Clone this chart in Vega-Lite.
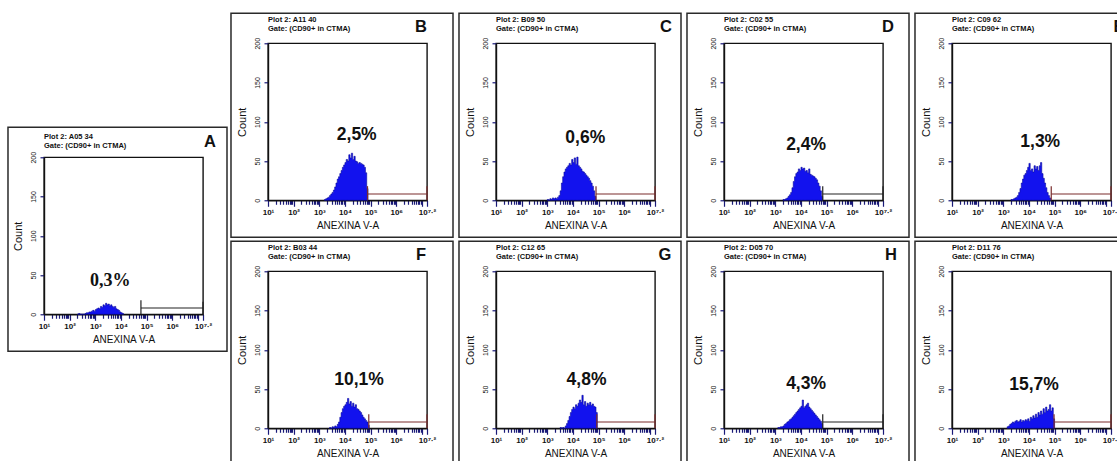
{
"$schema": "https://vega.github.io/schema/vega-lite/v6.json",
"padding": {"left": 6, "top": 11, "right": 0, "bottom": 0},
"spacing": 0,
"center": true,
"config": {
  "font": "Liberation Sans",
  "view": {"stroke": "#111111", "strokeWidth": 1.4},
  "axis": {"grid": false, "domainColor": "#111111", "domainWidth": 1.4, "tickColor": "#1a1a78", "tickWidth": 1.2, "labelColor": "#111111", "titleColor": "#111111", "labelFlush": false, "labelOverlap": false, "labelBound": false},
  "axisX": {"labelFontSize": 8, "labelFontWeight": "bold", "labelPadding": 2, "titleFontSize": 10, "titleFontWeight": "normal", "titlePadding": 4},
  "axisY": {"labelFontSize": 7, "labelAngle": 270, "labelAlign": "center", "labelBaseline": "bottom", "labelPadding": 4, "tickSize": 4, "titleFontSize": 11, "titleFontWeight": "normal", "titlePadding": 6}
},
"datasets": {
  "meta": [
    {"p": "A", "t1": "Plot 2: A05 34", "t2": "Gate: (CD90+ in CTMA)", "L": "A", "pct": "0,3%", "g": 4.78},
    {"p": "B", "t1": "Plot 2: A11 40", "t2": "Gate: (CD90+ in CTMA)", "L": "B", "pct": "2,5%", "g": 4.88},
    {"p": "C", "t1": "Plot 2: B09 50", "t2": "Gate: (CD90+ in CTMA)", "L": "C", "pct": "0,6%", "g": 4.9},
    {"p": "D", "t1": "Plot 2: C02 55", "t2": "Gate: (CD90+ in CTMA)", "L": "D", "pct": "2,4%", "g": 4.85},
    {"p": "E", "t1": "Plot 2: C09 62", "t2": "Gate: (CD90+ in CTMA)", "L": "E", "pct": "1,3%", "g": 4.87},
    {"p": "F", "t1": "Plot 2: B03 44", "t2": "Gate: (CD90+ in CTMA)", "L": "F", "pct": "10,1%", "g": 4.93},
    {"p": "G", "t1": "Plot 2: C12 65", "t2": "Gate: (CD90+ in CTMA)", "L": "G", "pct": "4,8%", "g": 4.93},
    {"p": "H", "t1": "Plot 2: D05 70", "t2": "Gate: (CD90+ in CTMA)", "L": "H", "pct": "4,3%", "g": 4.85},
    {"p": "I", "t1": "Plot 2: D11 76", "t2": "Gate: (CD90+ in CTMA)", "L": "I", "pct": "15,7%", "g": 4.98}
  ],
  "A": [{"x":2.3,"c":0},{"x":2.35,"c":1},{"x":2.4,"c":0},{"x":2.6,"c":1},{"x":2.65,"c":2},{"x":2.7,"c":2},{"x":2.75,"c":3},{"x":2.8,"c":3},{"x":2.85,"c":4},{"x":2.9,"c":5},{"x":2.95,"c":4},{"x":3.0,"c":6},{"x":3.05,"c":7},{"x":3.1,"c":8},{"x":3.15,"c":7},{"x":3.2,"c":10},{"x":3.25,"c":9},{"x":3.3,"c":12},{"x":3.35,"c":11},{"x":3.4,"c":14},{"x":3.45,"c":12},{"x":3.5,"c":13},{"x":3.55,"c":11},{"x":3.6,"c":12},{"x":3.65,"c":10},{"x":3.7,"c":9},{"x":3.75,"c":10},{"x":3.8,"c":7},{"x":3.85,"c":6},{"x":3.9,"c":5},{"x":3.95,"c":3},{"x":4.0,"c":2},{"x":4.05,"c":1},{"x":4.1,"c":0}],
  "B": [{"x":3.2,"c":1},{"x":3.25,"c":2},{"x":3.3,"c":3},{"x":3.35,"c":4},{"x":3.4,"c":6},{"x":3.45,"c":8},{"x":3.5,"c":10},{"x":3.55,"c":13},{"x":3.6,"c":17},{"x":3.65,"c":22},{"x":3.7,"c":27},{"x":3.75,"c":30},{"x":3.8,"c":34},{"x":3.85,"c":38},{"x":3.9,"c":42},{"x":3.95,"c":45},{"x":4.0,"c":48},{"x":4.05,"c":52},{"x":4.1,"c":50},{"x":4.15,"c":58},{"x":4.2,"c":54},{"x":4.25,"c":60},{"x":4.3,"c":52},{"x":4.35,"c":56},{"x":4.4,"c":50},{"x":4.45,"c":49},{"x":4.5,"c":47},{"x":4.55,"c":48},{"x":4.6,"c":47},{"x":4.65,"c":46},{"x":4.7,"c":45},{"x":4.75,"c":42},{"x":4.8,"c":35},{"x":4.85,"c":15},{"x":4.9,"c":0}],
  "C": [{"x":3.0,"c":1},{"x":3.05,"c":0},{"x":3.1,"c":2},{"x":3.15,"c":1},{"x":3.2,"c":3},{"x":3.25,"c":2},{"x":3.3,"c":3},{"x":3.35,"c":2},{"x":3.4,"c":4},{"x":3.45,"c":6},{"x":3.5,"c":12},{"x":3.55,"c":22},{"x":3.6,"c":30},{"x":3.65,"c":36},{"x":3.7,"c":40},{"x":3.75,"c":42},{"x":3.8,"c":44},{"x":3.85,"c":47},{"x":3.9,"c":45},{"x":3.95,"c":52},{"x":4.0,"c":48},{"x":4.05,"c":54},{"x":4.1,"c":46},{"x":4.15,"c":55},{"x":4.2,"c":44},{"x":4.25,"c":42},{"x":4.3,"c":40},{"x":4.35,"c":37},{"x":4.4,"c":36},{"x":4.45,"c":34},{"x":4.5,"c":32},{"x":4.55,"c":30},{"x":4.6,"c":28},{"x":4.65,"c":25},{"x":4.7,"c":22},{"x":4.75,"c":18},{"x":4.8,"c":12},{"x":4.85,"c":5},{"x":4.9,"c":0}],
  "D": [{"x":3.3,"c":1},{"x":3.35,"c":1},{"x":3.4,"c":2},{"x":3.45,"c":3},{"x":3.5,"c":5},{"x":3.55,"c":7},{"x":3.6,"c":10},{"x":3.65,"c":16},{"x":3.7,"c":24},{"x":3.75,"c":30},{"x":3.8,"c":34},{"x":3.85,"c":36},{"x":3.9,"c":40},{"x":3.95,"c":38},{"x":4.0,"c":42},{"x":4.05,"c":40},{"x":4.1,"c":41},{"x":4.15,"c":37},{"x":4.2,"c":38},{"x":4.25,"c":35},{"x":4.3,"c":40},{"x":4.35,"c":33},{"x":4.4,"c":32},{"x":4.45,"c":31},{"x":4.5,"c":30},{"x":4.55,"c":28},{"x":4.6,"c":26},{"x":4.65,"c":22},{"x":4.7,"c":18},{"x":4.75,"c":12},{"x":4.8,"c":5},{"x":4.85,"c":0}],
  "E": [{"x":3.3,"c":1},{"x":3.35,"c":1},{"x":3.4,"c":2},{"x":3.45,"c":3},{"x":3.5,"c":4},{"x":3.55,"c":6},{"x":3.6,"c":10},{"x":3.65,"c":15},{"x":3.7,"c":22},{"x":3.75,"c":27},{"x":3.8,"c":32},{"x":3.85,"c":34},{"x":3.9,"c":38},{"x":3.95,"c":42},{"x":4.0,"c":47},{"x":4.05,"c":38},{"x":4.1,"c":40},{"x":4.15,"c":36},{"x":4.2,"c":44},{"x":4.25,"c":40},{"x":4.3,"c":43},{"x":4.35,"c":38},{"x":4.4,"c":44},{"x":4.45,"c":48},{"x":4.5,"c":34},{"x":4.55,"c":28},{"x":4.6,"c":22},{"x":4.65,"c":16},{"x":4.7,"c":10},{"x":4.75,"c":6},{"x":4.8,"c":3},{"x":4.85,"c":0}],
  "F": [{"x":3.4,"c":1},{"x":3.45,"c":0},{"x":3.5,"c":2},{"x":3.55,"c":1},{"x":3.6,"c":3},{"x":3.65,"c":2},{"x":3.7,"c":5},{"x":3.75,"c":8},{"x":3.8,"c":14},{"x":3.85,"c":20},{"x":3.9,"c":25},{"x":3.95,"c":28},{"x":4.0,"c":30},{"x":4.05,"c":33},{"x":4.1,"c":38},{"x":4.15,"c":31},{"x":4.2,"c":34},{"x":4.25,"c":28},{"x":4.3,"c":32},{"x":4.35,"c":27},{"x":4.4,"c":30},{"x":4.45,"c":25},{"x":4.5,"c":24},{"x":4.55,"c":22},{"x":4.6,"c":20},{"x":4.65,"c":17},{"x":4.7,"c":14},{"x":4.75,"c":12},{"x":4.8,"c":10},{"x":4.85,"c":8},{"x":4.9,"c":4},{"x":4.95,"c":0}],
  "G": [{"x":3.5,"c":1},{"x":3.55,"c":0},{"x":3.6,"c":1},{"x":3.65,"c":0},{"x":3.7,"c":3},{"x":3.75,"c":6},{"x":3.8,"c":10},{"x":3.85,"c":15},{"x":3.9,"c":20},{"x":3.95,"c":24},{"x":4.0,"c":27},{"x":4.05,"c":25},{"x":4.1,"c":30},{"x":4.15,"c":28},{"x":4.2,"c":32},{"x":4.25,"c":36},{"x":4.3,"c":33},{"x":4.35,"c":42},{"x":4.4,"c":30},{"x":4.45,"c":34},{"x":4.5,"c":28},{"x":4.55,"c":32},{"x":4.6,"c":30},{"x":4.65,"c":33},{"x":4.7,"c":29},{"x":4.75,"c":31},{"x":4.8,"c":28},{"x":4.85,"c":27},{"x":4.9,"c":20},{"x":4.95,"c":0}],
  "H": [{"x":3.1,"c":1},{"x":3.15,"c":1},{"x":3.2,"c":2},{"x":3.25,"c":2},{"x":3.3,"c":3},{"x":3.35,"c":5},{"x":3.4,"c":6},{"x":3.45,"c":8},{"x":3.5,"c":9},{"x":3.55,"c":11},{"x":3.6,"c":12},{"x":3.65,"c":14},{"x":3.7,"c":16},{"x":3.75,"c":18},{"x":3.8,"c":20},{"x":3.85,"c":22},{"x":3.9,"c":24},{"x":3.95,"c":26},{"x":4.0,"c":28},{"x":4.05,"c":36},{"x":4.1,"c":26},{"x":4.15,"c":28},{"x":4.2,"c":30},{"x":4.25,"c":32},{"x":4.3,"c":27},{"x":4.35,"c":25},{"x":4.4,"c":23},{"x":4.45,"c":21},{"x":4.5,"c":19},{"x":4.55,"c":17},{"x":4.6,"c":15},{"x":4.65,"c":13},{"x":4.7,"c":11},{"x":4.75,"c":9},{"x":4.8,"c":6},{"x":4.85,"c":0}],
  "I": [{"x":3.15,"c":2},{"x":3.2,"c":3},{"x":3.25,"c":5},{"x":3.3,"c":6},{"x":3.35,"c":8},{"x":3.4,"c":7},{"x":3.45,"c":9},{"x":3.5,"c":10},{"x":3.55,"c":8},{"x":3.6,"c":9},{"x":3.65,"c":11},{"x":3.7,"c":8},{"x":3.75,"c":10},{"x":3.8,"c":9},{"x":3.85,"c":11},{"x":3.9,"c":10},{"x":3.95,"c":12},{"x":4.0,"c":9},{"x":4.05,"c":14},{"x":4.1,"c":12},{"x":4.15,"c":16},{"x":4.2,"c":13},{"x":4.25,"c":18},{"x":4.3,"c":14},{"x":4.35,"c":20},{"x":4.4,"c":17},{"x":4.45,"c":22},{"x":4.5,"c":18},{"x":4.55,"c":25},{"x":4.6,"c":20},{"x":4.65,"c":27},{"x":4.7,"c":22},{"x":4.75,"c":24},{"x":4.8,"c":30},{"x":4.85,"c":22},{"x":4.9,"c":26},{"x":4.95,"c":12},{"x":5.0,"c":0}]
},
"hconcat": [
{
  "width": 159, "height": 157,
  "resolve": {"axis": {"x": "independent", "y": "independent"}},
  "layer": [
    {"data": {"name": "A"}, "mark": {"type": "area", "interpolate": "step-after", "fill": "#1212ee", "stroke": "#0a0aa0", "strokeWidth": 0.6},
     "encoding": {
       "x": {"field": "x", "type": "quantitative", "title": "ANEXINA V-A", "scale": {"domain": [1, 7.2], "nice": false, "zero": false},
             "axis": {"values": [1,1.301,1.477,1.602,1.699,1.778,1.845,1.903,1.954,2,2.301,2.477,2.602,2.699,2.778,2.845,2.903,2.954,3,3.301,3.477,3.602,3.699,3.778,3.845,3.903,3.954,4,4.301,4.477,4.602,4.699,4.778,4.845,4.903,4.954,5,5.301,5.477,5.602,5.699,5.778,5.845,5.903,5.954,6,6.301,6.477,6.602,6.699,6.778,6.845,6.903,6.954,7,7.2],
                      "labelExpr": "datum.value == 7.2 ? '10⁷·²' : datum.value == 1 ? '10¹' : datum.value == 2 ? '10²' : datum.value == 3 ? '10³' : datum.value == 4 ? '10⁴' : datum.value == 5 ? '10⁵' : datum.value == 6 ? '10⁶' : ''",
                      "tickSize": {"condition": {"test": "datum.value % 1 == 0 || datum.value == 7.2", "value": 6}, "value": 4}}},
       "y": {"field": "c", "type": "quantitative", "title": "Count", "scale": {"domain": [0, 200], "nice": false, "zero": false}, "axis": {"values": [0, 50, 100, 150, 200]}}
     }},
    {"data": {"values": [{}]}, "mark": {"type": "rect", "filled": false, "stroke": "#2a2a2a", "strokeWidth": 1.5, "clip": false},
     "encoding": {"x": {"datum": -0.404, "axis": null}, "x2": {"datum": 8.136}, "y": {"datum": -47.13, "axis": null}, "y2": {"datum": 238.22}}},
    {"data": {"name": "meta"}, "transform": [{"filter": "datum.p == 'A'"}],
     "layer": [
       {"mark": {"type": "text", "align": "left", "baseline": "middle", "dy": -20, "fontSize": 7.5, "fontWeight": "bold", "color": "#111"}, "encoding": {"x": {"datum": 1, "axis": null}, "y": {"datum": 200, "axis": null}, "text": {"field": "t1"}}},
       {"mark": {"type": "text", "align": "left", "baseline": "middle", "dy": -11, "fontSize": 7.5, "fontWeight": "bold", "color": "#111"}, "encoding": {"x": {"datum": 1, "axis": null}, "y": {"datum": 200, "axis": null}, "text": {"field": "t2"}}},
       {"mark": {"type": "text", "align": "center", "baseline": "middle", "dx": 7, "dy": -15, "fontSize": 16.5, "fontWeight": "bold", "color": "#111"}, "encoding": {"x": {"datum": 7.2, "axis": null}, "y": {"datum": 200, "axis": null}, "text": {"field": "L"}}},
       {"mark": {"type": "text", "align": "center", "baseline": "middle", "fontSize": 18, "fontWeight": "bold", "font": "Liberation Serif", "color": "#111"}, "encoding": {"x": {"datum": 3.58, "axis": null}, "y": {"datum": 42, "axis": null}, "text": {"field": "pct"}}},
       {"mark": {"type": "rule", "color": "#222222", "strokeWidth": 1.2}, "encoding": {"x": {"field": "g", "type": "quantitative", "axis": null}, "x2": {"datum": 7.2}, "y": {"datum": 8, "axis": null}}},
       {"mark": {"type": "rule", "color": "#222222", "strokeWidth": 1.2}, "encoding": {"x": {"field": "g", "type": "quantitative", "axis": null}, "y": {"datum": 0, "axis": null}, "y2": {"datum": 18}}},
       {"mark": {"type": "rule", "color": "#222222", "strokeWidth": 1.2}, "encoding": {"x": {"datum": 7.2, "axis": null}, "y": {"datum": 0, "axis": null}, "y2": {"datum": 16}}}
     ]}
  ]
},
{"vconcat": [
 {"hconcat": [
  {
  "width": 159, "height": 157,
  "resolve": {"axis": {"x": "independent", "y": "independent"}},
  "layer": [
    {"data": {"name": "B"}, "mark": {"type": "area", "interpolate": "step-after", "fill": "#1212ee", "stroke": "#0a0aa0", "strokeWidth": 0.6},
     "encoding": {
       "x": {"field": "x", "type": "quantitative", "title": "ANEXINA V-A", "scale": {"domain": [1, 7.2], "nice": false, "zero": false},
             "axis": {"values": [1,1.301,1.477,1.602,1.699,1.778,1.845,1.903,1.954,2,2.301,2.477,2.602,2.699,2.778,2.845,2.903,2.954,3,3.301,3.477,3.602,3.699,3.778,3.845,3.903,3.954,4,4.301,4.477,4.602,4.699,4.778,4.845,4.903,4.954,5,5.301,5.477,5.602,5.699,5.778,5.845,5.903,5.954,6,6.301,6.477,6.602,6.699,6.778,6.845,6.903,6.954,7,7.2],
                      "labelExpr": "datum.value == 7.2 ? '10⁷·²' : datum.value == 1 ? '10¹' : datum.value == 2 ? '10²' : datum.value == 3 ? '10³' : datum.value == 4 ? '10⁴' : datum.value == 5 ? '10⁵' : datum.value == 6 ? '10⁶' : ''",
                      "tickSize": {"condition": {"test": "datum.value % 1 == 0 || datum.value == 7.2", "value": 6}, "value": 4}}},
       "y": {"field": "c", "type": "quantitative", "title": "Count", "scale": {"domain": [0, 200], "nice": false, "zero": false}, "axis": {"values": [0, 50, 100, 150, 200]}}
     }},
    {"data": {"values": [{}]}, "mark": {"type": "rect", "filled": false, "stroke": "#2a2a2a", "strokeWidth": 1.5, "clip": false},
     "encoding": {"x": {"datum": -0.443, "axis": null}, "x2": {"datum": 8.214}, "y": {"datum": -47.13, "axis": null}, "y2": {"datum": 238.22}}},
    {"data": {"name": "meta"}, "transform": [{"filter": "datum.p == 'B'"}],
     "layer": [
       {"mark": {"type": "text", "align": "left", "baseline": "middle", "dy": -23, "fontSize": 7.5, "fontWeight": "bold", "color": "#111"}, "encoding": {"x": {"datum": 1, "axis": null}, "y": {"datum": 200, "axis": null}, "text": {"field": "t1"}}},
       {"mark": {"type": "text", "align": "left", "baseline": "middle", "dy": -14, "fontSize": 7.5, "fontWeight": "bold", "color": "#111"}, "encoding": {"x": {"datum": 1, "axis": null}, "y": {"datum": 200, "axis": null}, "text": {"field": "t2"}}},
       {"mark": {"type": "text", "align": "center", "baseline": "middle", "dx": -6, "dy": -16, "fontSize": 16.5, "fontWeight": "bold", "color": "#111"}, "encoding": {"x": {"datum": 7.2, "axis": null}, "y": {"datum": 200, "axis": null}, "text": {"field": "L"}}},
       {"mark": {"type": "text", "align": "center", "baseline": "middle", "fontSize": 17.5, "fontWeight": "bold", "color": "#111"}, "encoding": {"x": {"datum": 4.46, "axis": null}, "y": {"datum": 83, "axis": null}, "text": {"field": "pct"}}},
       {"mark": {"type": "rule", "color": "#7a2c2c", "strokeWidth": 1.2}, "encoding": {"x": {"field": "g", "type": "quantitative", "axis": null}, "x2": {"datum": 7.2}, "y": {"datum": 8, "axis": null}}},
       {"mark": {"type": "rule", "color": "#7a2c2c", "strokeWidth": 1.2}, "encoding": {"x": {"field": "g", "type": "quantitative", "axis": null}, "y": {"datum": 0, "axis": null}, "y2": {"datum": 18}}},
       {"mark": {"type": "rule", "color": "#7a2c2c", "strokeWidth": 1.2}, "encoding": {"x": {"datum": 7.2, "axis": null}, "y": {"datum": 0, "axis": null}, "y2": {"datum": 18}}}
     ]}
  ]
  },
  {
  "width": 159, "height": 157,
  "resolve": {"axis": {"x": "independent", "y": "independent"}},
  "layer": [
    {"data": {"name": "C"}, "mark": {"type": "area", "interpolate": "step-after", "fill": "#1212ee", "stroke": "#0a0aa0", "strokeWidth": 0.6},
     "encoding": {
       "x": {"field": "x", "type": "quantitative", "title": "ANEXINA V-A", "scale": {"domain": [1, 7.2], "nice": false, "zero": false},
             "axis": {"values": [1,1.301,1.477,1.602,1.699,1.778,1.845,1.903,1.954,2,2.301,2.477,2.602,2.699,2.778,2.845,2.903,2.954,3,3.301,3.477,3.602,3.699,3.778,3.845,3.903,3.954,4,4.301,4.477,4.602,4.699,4.778,4.845,4.903,4.954,5,5.301,5.477,5.602,5.699,5.778,5.845,5.903,5.954,6,6.301,6.477,6.602,6.699,6.778,6.845,6.903,6.954,7,7.2],
                      "labelExpr": "datum.value == 7.2 ? '10⁷·²' : datum.value == 1 ? '10¹' : datum.value == 2 ? '10²' : datum.value == 3 ? '10³' : datum.value == 4 ? '10⁴' : datum.value == 5 ? '10⁵' : datum.value == 6 ? '10⁶' : ''",
                      "tickSize": {"condition": {"test": "datum.value % 1 == 0 || datum.value == 7.2", "value": 6}, "value": 4}}},
       "y": {"field": "c", "type": "quantitative", "title": "Count", "scale": {"domain": [0, 200], "nice": false, "zero": false}, "axis": {"values": [0, 50, 100, 150, 200]}}
     }},
    {"data": {"values": [{}]}, "mark": {"type": "rect", "filled": false, "stroke": "#2a2a2a", "strokeWidth": 1.5, "clip": false},
     "encoding": {"x": {"datum": -0.443, "axis": null}, "x2": {"datum": 8.214}, "y": {"datum": -47.13, "axis": null}, "y2": {"datum": 238.22}}},
    {"data": {"name": "meta"}, "transform": [{"filter": "datum.p == 'C'"}],
     "layer": [
       {"mark": {"type": "text", "align": "left", "baseline": "middle", "dy": -23, "fontSize": 7.5, "fontWeight": "bold", "color": "#111"}, "encoding": {"x": {"datum": 1, "axis": null}, "y": {"datum": 200, "axis": null}, "text": {"field": "t1"}}},
       {"mark": {"type": "text", "align": "left", "baseline": "middle", "dy": -14, "fontSize": 7.5, "fontWeight": "bold", "color": "#111"}, "encoding": {"x": {"datum": 1, "axis": null}, "y": {"datum": 200, "axis": null}, "text": {"field": "t2"}}},
       {"mark": {"type": "text", "align": "center", "baseline": "middle", "dx": 11, "dy": -16, "fontSize": 16.5, "fontWeight": "bold", "color": "#111"}, "encoding": {"x": {"datum": 7.2, "axis": null}, "y": {"datum": 200, "axis": null}, "text": {"field": "L"}}},
       {"mark": {"type": "text", "align": "center", "baseline": "middle", "fontSize": 17.5, "fontWeight": "bold", "color": "#111"}, "encoding": {"x": {"datum": 4.48, "axis": null}, "y": {"datum": 79, "axis": null}, "text": {"field": "pct"}}},
       {"mark": {"type": "rule", "color": "#7a2c2c", "strokeWidth": 1.2}, "encoding": {"x": {"field": "g", "type": "quantitative", "axis": null}, "x2": {"datum": 7.2}, "y": {"datum": 8, "axis": null}}},
       {"mark": {"type": "rule", "color": "#7a2c2c", "strokeWidth": 1.2}, "encoding": {"x": {"field": "g", "type": "quantitative", "axis": null}, "y": {"datum": 0, "axis": null}, "y2": {"datum": 18}}},
       {"mark": {"type": "rule", "color": "#7a2c2c", "strokeWidth": 1.2}, "encoding": {"x": {"datum": 7.2, "axis": null}, "y": {"datum": 0, "axis": null}, "y2": {"datum": 18}}}
     ]}
  ]
  },
  {
  "width": 159, "height": 157,
  "resolve": {"axis": {"x": "independent", "y": "independent"}},
  "layer": [
    {"data": {"name": "D"}, "mark": {"type": "area", "interpolate": "step-after", "fill": "#1212ee", "stroke": "#0a0aa0", "strokeWidth": 0.6},
     "encoding": {
       "x": {"field": "x", "type": "quantitative", "title": "ANEXINA V-A", "scale": {"domain": [1, 7.2], "nice": false, "zero": false},
             "axis": {"values": [1,1.301,1.477,1.602,1.699,1.778,1.845,1.903,1.954,2,2.301,2.477,2.602,2.699,2.778,2.845,2.903,2.954,3,3.301,3.477,3.602,3.699,3.778,3.845,3.903,3.954,4,4.301,4.477,4.602,4.699,4.778,4.845,4.903,4.954,5,5.301,5.477,5.602,5.699,5.778,5.845,5.903,5.954,6,6.301,6.477,6.602,6.699,6.778,6.845,6.903,6.954,7,7.2],
                      "labelExpr": "datum.value == 7.2 ? '10⁷·²' : datum.value == 1 ? '10¹' : datum.value == 2 ? '10²' : datum.value == 3 ? '10³' : datum.value == 4 ? '10⁴' : datum.value == 5 ? '10⁵' : datum.value == 6 ? '10⁶' : ''",
                      "tickSize": {"condition": {"test": "datum.value % 1 == 0 || datum.value == 7.2", "value": 6}, "value": 4}}},
       "y": {"field": "c", "type": "quantitative", "title": "Count", "scale": {"domain": [0, 200], "nice": false, "zero": false}, "axis": {"values": [0, 50, 100, 150, 200]}}
     }},
    {"data": {"values": [{}]}, "mark": {"type": "rect", "filled": false, "stroke": "#2a2a2a", "strokeWidth": 1.5, "clip": false},
     "encoding": {"x": {"datum": -0.443, "axis": null}, "x2": {"datum": 8.214}, "y": {"datum": -47.13, "axis": null}, "y2": {"datum": 238.22}}},
    {"data": {"name": "meta"}, "transform": [{"filter": "datum.p == 'D'"}],
     "layer": [
       {"mark": {"type": "text", "align": "left", "baseline": "middle", "dy": -23, "fontSize": 7.5, "fontWeight": "bold", "color": "#111"}, "encoding": {"x": {"datum": 1, "axis": null}, "y": {"datum": 200, "axis": null}, "text": {"field": "t1"}}},
       {"mark": {"type": "text", "align": "left", "baseline": "middle", "dy": -14, "fontSize": 7.5, "fontWeight": "bold", "color": "#111"}, "encoding": {"x": {"datum": 1, "axis": null}, "y": {"datum": 200, "axis": null}, "text": {"field": "t2"}}},
       {"mark": {"type": "text", "align": "center", "baseline": "middle", "dx": 5, "dy": -16, "fontSize": 16.5, "fontWeight": "bold", "color": "#111"}, "encoding": {"x": {"datum": 7.2, "axis": null}, "y": {"datum": 200, "axis": null}, "text": {"field": "L"}}},
       {"mark": {"type": "text", "align": "center", "baseline": "middle", "fontSize": 17.5, "fontWeight": "bold", "color": "#111"}, "encoding": {"x": {"datum": 4.2, "axis": null}, "y": {"datum": 71, "axis": null}, "text": {"field": "pct"}}},
       {"mark": {"type": "rule", "color": "#222222", "strokeWidth": 1.2}, "encoding": {"x": {"field": "g", "type": "quantitative", "axis": null}, "x2": {"datum": 7.2}, "y": {"datum": 8, "axis": null}}},
       {"mark": {"type": "rule", "color": "#222222", "strokeWidth": 1.2}, "encoding": {"x": {"field": "g", "type": "quantitative", "axis": null}, "y": {"datum": 0, "axis": null}, "y2": {"datum": 18}}},
       {"mark": {"type": "rule", "color": "#222222", "strokeWidth": 1.2}, "encoding": {"x": {"datum": 7.2, "axis": null}, "y": {"datum": 0, "axis": null}, "y2": {"datum": 18}}}
     ]}
  ]
  },
  {
  "width": 159, "height": 157,
  "resolve": {"axis": {"x": "independent", "y": "independent"}},
  "layer": [
    {"data": {"name": "E"}, "mark": {"type": "area", "interpolate": "step-after", "fill": "#1212ee", "stroke": "#0a0aa0", "strokeWidth": 0.6},
     "encoding": {
       "x": {"field": "x", "type": "quantitative", "title": "ANEXINA V-A", "scale": {"domain": [1, 7.2], "nice": false, "zero": false},
             "axis": {"values": [1,1.301,1.477,1.602,1.699,1.778,1.845,1.903,1.954,2,2.301,2.477,2.602,2.699,2.778,2.845,2.903,2.954,3,3.301,3.477,3.602,3.699,3.778,3.845,3.903,3.954,4,4.301,4.477,4.602,4.699,4.778,4.845,4.903,4.954,5,5.301,5.477,5.602,5.699,5.778,5.845,5.903,5.954,6,6.301,6.477,6.602,6.699,6.778,6.845,6.903,6.954,7,7.2],
                      "labelExpr": "datum.value == 7.2 ? '10⁷·²' : datum.value == 1 ? '10¹' : datum.value == 2 ? '10²' : datum.value == 3 ? '10³' : datum.value == 4 ? '10⁴' : datum.value == 5 ? '10⁵' : datum.value == 6 ? '10⁶' : ''",
                      "tickSize": {"condition": {"test": "datum.value % 1 == 0 || datum.value == 7.2", "value": 6}, "value": 4}}},
       "y": {"field": "c", "type": "quantitative", "title": "Count", "scale": {"domain": [0, 200], "nice": false, "zero": false}, "axis": {"values": [0, 50, 100, 150, 200]}}
     }},
    {"data": {"values": [{}]}, "mark": {"type": "rect", "filled": false, "stroke": "#2a2a2a", "strokeWidth": 1.5, "clip": false},
     "encoding": {"x": {"datum": -0.443, "axis": null}, "x2": {"datum": 8.214}, "y": {"datum": -47.13, "axis": null}, "y2": {"datum": 238.22}}},
    {"data": {"name": "meta"}, "transform": [{"filter": "datum.p == 'E'"}],
     "layer": [
       {"mark": {"type": "text", "align": "left", "baseline": "middle", "dy": -23, "fontSize": 7.5, "fontWeight": "bold", "color": "#111"}, "encoding": {"x": {"datum": 1, "axis": null}, "y": {"datum": 200, "axis": null}, "text": {"field": "t1"}}},
       {"mark": {"type": "text", "align": "left", "baseline": "middle", "dy": -14, "fontSize": 7.5, "fontWeight": "bold", "color": "#111"}, "encoding": {"x": {"datum": 1, "axis": null}, "y": {"datum": 200, "axis": null}, "text": {"field": "t2"}}},
       {"mark": {"type": "text", "align": "center", "baseline": "middle", "dx": 8, "dy": -16, "fontSize": 16.5, "fontWeight": "bold", "color": "#111"}, "encoding": {"x": {"datum": 7.2, "axis": null}, "y": {"datum": 200, "axis": null}, "text": {"field": "L"}}},
       {"mark": {"type": "text", "align": "center", "baseline": "middle", "fontSize": 17.5, "fontWeight": "bold", "color": "#111"}, "encoding": {"x": {"datum": 4.44, "axis": null}, "y": {"datum": 74, "axis": null}, "text": {"field": "pct"}}},
       {"mark": {"type": "rule", "color": "#7a2c2c", "strokeWidth": 1.2}, "encoding": {"x": {"field": "g", "type": "quantitative", "axis": null}, "x2": {"datum": 7.2}, "y": {"datum": 8, "axis": null}}},
       {"mark": {"type": "rule", "color": "#7a2c2c", "strokeWidth": 1.2}, "encoding": {"x": {"field": "g", "type": "quantitative", "axis": null}, "y": {"datum": 0, "axis": null}, "y2": {"datum": 18}}},
       {"mark": {"type": "rule", "color": "#7a2c2c", "strokeWidth": 1.2}, "encoding": {"x": {"datum": 7.2, "axis": null}, "y": {"datum": 0, "axis": null}, "y2": {"datum": 18}}}
     ]}
  ]
  }
 ], "spacing": 2},
 {"hconcat": [
  {
  "width": 159, "height": 157,
  "resolve": {"axis": {"x": "independent", "y": "independent"}},
  "layer": [
    {"data": {"name": "F"}, "mark": {"type": "area", "interpolate": "step-after", "fill": "#1212ee", "stroke": "#0a0aa0", "strokeWidth": 0.6},
     "encoding": {
       "x": {"field": "x", "type": "quantitative", "title": "ANEXINA V-A", "scale": {"domain": [1, 7.2], "nice": false, "zero": false},
             "axis": {"values": [1,1.301,1.477,1.602,1.699,1.778,1.845,1.903,1.954,2,2.301,2.477,2.602,2.699,2.778,2.845,2.903,2.954,3,3.301,3.477,3.602,3.699,3.778,3.845,3.903,3.954,4,4.301,4.477,4.602,4.699,4.778,4.845,4.903,4.954,5,5.301,5.477,5.602,5.699,5.778,5.845,5.903,5.954,6,6.301,6.477,6.602,6.699,6.778,6.845,6.903,6.954,7,7.2],
                      "labelExpr": "datum.value == 7.2 ? '10⁷·²' : datum.value == 1 ? '10¹' : datum.value == 2 ? '10²' : datum.value == 3 ? '10³' : datum.value == 4 ? '10⁴' : datum.value == 5 ? '10⁵' : datum.value == 6 ? '10⁶' : ''",
                      "tickSize": {"condition": {"test": "datum.value % 1 == 0 || datum.value == 7.2", "value": 6}, "value": 4}}},
       "y": {"field": "c", "type": "quantitative", "title": "Count", "scale": {"domain": [0, 200], "nice": false, "zero": false}, "axis": {"values": [0, 50, 100, 150, 200]}}
     }},
    {"data": {"values": [{}]}, "mark": {"type": "rect", "filled": false, "stroke": "#2a2a2a", "strokeWidth": 1.5, "clip": false},
     "encoding": {"x": {"datum": -0.443, "axis": null}, "x2": {"datum": 8.214}, "y": {"datum": -47.13, "axis": null}, "y2": {"datum": 238.22}}},
    {"data": {"name": "meta"}, "transform": [{"filter": "datum.p == 'F'"}],
     "layer": [
       {"mark": {"type": "text", "align": "left", "baseline": "middle", "dy": -23, "fontSize": 7.5, "fontWeight": "bold", "color": "#111"}, "encoding": {"x": {"datum": 1, "axis": null}, "y": {"datum": 200, "axis": null}, "text": {"field": "t1"}}},
       {"mark": {"type": "text", "align": "left", "baseline": "middle", "dy": -14, "fontSize": 7.5, "fontWeight": "bold", "color": "#111"}, "encoding": {"x": {"datum": 1, "axis": null}, "y": {"datum": 200, "axis": null}, "text": {"field": "t2"}}},
       {"mark": {"type": "text", "align": "center", "baseline": "middle", "dx": -6, "dy": -16, "fontSize": 16.5, "fontWeight": "bold", "color": "#111"}, "encoding": {"x": {"datum": 7.2, "axis": null}, "y": {"datum": 200, "axis": null}, "text": {"field": "L"}}},
       {"mark": {"type": "text", "align": "center", "baseline": "middle", "fontSize": 17.5, "fontWeight": "bold", "color": "#111"}, "encoding": {"x": {"datum": 4.55, "axis": null}, "y": {"datum": 61, "axis": null}, "text": {"field": "pct"}}},
       {"mark": {"type": "rule", "color": "#7a2c2c", "strokeWidth": 1.2}, "encoding": {"x": {"field": "g", "type": "quantitative", "axis": null}, "x2": {"datum": 7.2}, "y": {"datum": 8, "axis": null}}},
       {"mark": {"type": "rule", "color": "#7a2c2c", "strokeWidth": 1.2}, "encoding": {"x": {"field": "g", "type": "quantitative", "axis": null}, "y": {"datum": 0, "axis": null}, "y2": {"datum": 18}}},
       {"mark": {"type": "rule", "color": "#7a2c2c", "strokeWidth": 1.2}, "encoding": {"x": {"datum": 7.2, "axis": null}, "y": {"datum": 0, "axis": null}, "y2": {"datum": 18}}}
     ]}
  ]
  },
  {
  "width": 159, "height": 157,
  "resolve": {"axis": {"x": "independent", "y": "independent"}},
  "layer": [
    {"data": {"name": "G"}, "mark": {"type": "area", "interpolate": "step-after", "fill": "#1212ee", "stroke": "#0a0aa0", "strokeWidth": 0.6},
     "encoding": {
       "x": {"field": "x", "type": "quantitative", "title": "ANEXINA V-A", "scale": {"domain": [1, 7.2], "nice": false, "zero": false},
             "axis": {"values": [1,1.301,1.477,1.602,1.699,1.778,1.845,1.903,1.954,2,2.301,2.477,2.602,2.699,2.778,2.845,2.903,2.954,3,3.301,3.477,3.602,3.699,3.778,3.845,3.903,3.954,4,4.301,4.477,4.602,4.699,4.778,4.845,4.903,4.954,5,5.301,5.477,5.602,5.699,5.778,5.845,5.903,5.954,6,6.301,6.477,6.602,6.699,6.778,6.845,6.903,6.954,7,7.2],
                      "labelExpr": "datum.value == 7.2 ? '10⁷·²' : datum.value == 1 ? '10¹' : datum.value == 2 ? '10²' : datum.value == 3 ? '10³' : datum.value == 4 ? '10⁴' : datum.value == 5 ? '10⁵' : datum.value == 6 ? '10⁶' : ''",
                      "tickSize": {"condition": {"test": "datum.value % 1 == 0 || datum.value == 7.2", "value": 6}, "value": 4}}},
       "y": {"field": "c", "type": "quantitative", "title": "Count", "scale": {"domain": [0, 200], "nice": false, "zero": false}, "axis": {"values": [0, 50, 100, 150, 200]}}
     }},
    {"data": {"values": [{}]}, "mark": {"type": "rect", "filled": false, "stroke": "#2a2a2a", "strokeWidth": 1.5, "clip": false},
     "encoding": {"x": {"datum": -0.443, "axis": null}, "x2": {"datum": 8.214}, "y": {"datum": -47.13, "axis": null}, "y2": {"datum": 238.22}}},
    {"data": {"name": "meta"}, "transform": [{"filter": "datum.p == 'G'"}],
     "layer": [
       {"mark": {"type": "text", "align": "left", "baseline": "middle", "dy": -23, "fontSize": 7.5, "fontWeight": "bold", "color": "#111"}, "encoding": {"x": {"datum": 1, "axis": null}, "y": {"datum": 200, "axis": null}, "text": {"field": "t1"}}},
       {"mark": {"type": "text", "align": "left", "baseline": "middle", "dy": -14, "fontSize": 7.5, "fontWeight": "bold", "color": "#111"}, "encoding": {"x": {"datum": 1, "axis": null}, "y": {"datum": 200, "axis": null}, "text": {"field": "t2"}}},
       {"mark": {"type": "text", "align": "center", "baseline": "middle", "dx": 10, "dy": -16, "fontSize": 16.5, "fontWeight": "bold", "color": "#111"}, "encoding": {"x": {"datum": 7.2, "axis": null}, "y": {"datum": 200, "axis": null}, "text": {"field": "L"}}},
       {"mark": {"type": "text", "align": "center", "baseline": "middle", "fontSize": 17.5, "fontWeight": "bold", "color": "#111"}, "encoding": {"x": {"datum": 4.53, "axis": null}, "y": {"datum": 61, "axis": null}, "text": {"field": "pct"}}},
       {"mark": {"type": "rule", "color": "#7a2c2c", "strokeWidth": 1.2}, "encoding": {"x": {"field": "g", "type": "quantitative", "axis": null}, "x2": {"datum": 7.2}, "y": {"datum": 8, "axis": null}}},
       {"mark": {"type": "rule", "color": "#7a2c2c", "strokeWidth": 1.2}, "encoding": {"x": {"field": "g", "type": "quantitative", "axis": null}, "y": {"datum": 0, "axis": null}, "y2": {"datum": 18}}},
       {"mark": {"type": "rule", "color": "#7a2c2c", "strokeWidth": 1.2}, "encoding": {"x": {"datum": 7.2, "axis": null}, "y": {"datum": 0, "axis": null}, "y2": {"datum": 18}}}
     ]}
  ]
  },
  {
  "width": 159, "height": 157,
  "resolve": {"axis": {"x": "independent", "y": "independent"}},
  "layer": [
    {"data": {"name": "H"}, "mark": {"type": "area", "interpolate": "step-after", "fill": "#1212ee", "stroke": "#0a0aa0", "strokeWidth": 0.6},
     "encoding": {
       "x": {"field": "x", "type": "quantitative", "title": "ANEXINA V-A", "scale": {"domain": [1, 7.2], "nice": false, "zero": false},
             "axis": {"values": [1,1.301,1.477,1.602,1.699,1.778,1.845,1.903,1.954,2,2.301,2.477,2.602,2.699,2.778,2.845,2.903,2.954,3,3.301,3.477,3.602,3.699,3.778,3.845,3.903,3.954,4,4.301,4.477,4.602,4.699,4.778,4.845,4.903,4.954,5,5.301,5.477,5.602,5.699,5.778,5.845,5.903,5.954,6,6.301,6.477,6.602,6.699,6.778,6.845,6.903,6.954,7,7.2],
                      "labelExpr": "datum.value == 7.2 ? '10⁷·²' : datum.value == 1 ? '10¹' : datum.value == 2 ? '10²' : datum.value == 3 ? '10³' : datum.value == 4 ? '10⁴' : datum.value == 5 ? '10⁵' : datum.value == 6 ? '10⁶' : ''",
                      "tickSize": {"condition": {"test": "datum.value % 1 == 0 || datum.value == 7.2", "value": 6}, "value": 4}}},
       "y": {"field": "c", "type": "quantitative", "title": "Count", "scale": {"domain": [0, 200], "nice": false, "zero": false}, "axis": {"values": [0, 50, 100, 150, 200]}}
     }},
    {"data": {"values": [{}]}, "mark": {"type": "rect", "filled": false, "stroke": "#2a2a2a", "strokeWidth": 1.5, "clip": false},
     "encoding": {"x": {"datum": -0.443, "axis": null}, "x2": {"datum": 8.214}, "y": {"datum": -47.13, "axis": null}, "y2": {"datum": 238.22}}},
    {"data": {"name": "meta"}, "transform": [{"filter": "datum.p == 'H'"}],
     "layer": [
       {"mark": {"type": "text", "align": "left", "baseline": "middle", "dy": -23, "fontSize": 7.5, "fontWeight": "bold", "color": "#111"}, "encoding": {"x": {"datum": 1, "axis": null}, "y": {"datum": 200, "axis": null}, "text": {"field": "t1"}}},
       {"mark": {"type": "text", "align": "left", "baseline": "middle", "dy": -14, "fontSize": 7.5, "fontWeight": "bold", "color": "#111"}, "encoding": {"x": {"datum": 1, "axis": null}, "y": {"datum": 200, "axis": null}, "text": {"field": "t2"}}},
       {"mark": {"type": "text", "align": "center", "baseline": "middle", "dx": 8, "dy": -16, "fontSize": 16.5, "fontWeight": "bold", "color": "#111"}, "encoding": {"x": {"datum": 7.2, "axis": null}, "y": {"datum": 200, "axis": null}, "text": {"field": "L"}}},
       {"mark": {"type": "text", "align": "center", "baseline": "middle", "fontSize": 17.5, "fontWeight": "bold", "color": "#111"}, "encoding": {"x": {"datum": 4.2, "axis": null}, "y": {"datum": 57, "axis": null}, "text": {"field": "pct"}}},
       {"mark": {"type": "rule", "color": "#222222", "strokeWidth": 1.2}, "encoding": {"x": {"field": "g", "type": "quantitative", "axis": null}, "x2": {"datum": 7.2}, "y": {"datum": 8, "axis": null}}},
       {"mark": {"type": "rule", "color": "#222222", "strokeWidth": 1.2}, "encoding": {"x": {"field": "g", "type": "quantitative", "axis": null}, "y": {"datum": 0, "axis": null}, "y2": {"datum": 18}}},
       {"mark": {"type": "rule", "color": "#222222", "strokeWidth": 1.2}, "encoding": {"x": {"datum": 7.2, "axis": null}, "y": {"datum": 0, "axis": null}, "y2": {"datum": 18}}}
     ]}
  ]
  },
  {
  "width": 159, "height": 157,
  "resolve": {"axis": {"x": "independent", "y": "independent"}},
  "layer": [
    {"data": {"name": "I"}, "mark": {"type": "area", "interpolate": "step-after", "fill": "#1212ee", "stroke": "#0a0aa0", "strokeWidth": 0.6},
     "encoding": {
       "x": {"field": "x", "type": "quantitative", "title": "ANEXINA V-A", "scale": {"domain": [1, 7.2], "nice": false, "zero": false},
             "axis": {"values": [1,1.301,1.477,1.602,1.699,1.778,1.845,1.903,1.954,2,2.301,2.477,2.602,2.699,2.778,2.845,2.903,2.954,3,3.301,3.477,3.602,3.699,3.778,3.845,3.903,3.954,4,4.301,4.477,4.602,4.699,4.778,4.845,4.903,4.954,5,5.301,5.477,5.602,5.699,5.778,5.845,5.903,5.954,6,6.301,6.477,6.602,6.699,6.778,6.845,6.903,6.954,7,7.2],
                      "labelExpr": "datum.value == 7.2 ? '10⁷·²' : datum.value == 1 ? '10¹' : datum.value == 2 ? '10²' : datum.value == 3 ? '10³' : datum.value == 4 ? '10⁴' : datum.value == 5 ? '10⁵' : datum.value == 6 ? '10⁶' : ''",
                      "tickSize": {"condition": {"test": "datum.value % 1 == 0 || datum.value == 7.2", "value": 6}, "value": 4}}},
       "y": {"field": "c", "type": "quantitative", "title": "Count", "scale": {"domain": [0, 200], "nice": false, "zero": false}, "axis": {"values": [0, 50, 100, 150, 200]}}
     }},
    {"data": {"values": [{}]}, "mark": {"type": "rect", "filled": false, "stroke": "#2a2a2a", "strokeWidth": 1.5, "clip": false},
     "encoding": {"x": {"datum": -0.443, "axis": null}, "x2": {"datum": 8.214}, "y": {"datum": -47.13, "axis": null}, "y2": {"datum": 238.22}}},
    {"data": {"name": "meta"}, "transform": [{"filter": "datum.p == 'I'"}],
     "layer": [
       {"mark": {"type": "text", "align": "left", "baseline": "middle", "dy": -23, "fontSize": 7.5, "fontWeight": "bold", "color": "#111"}, "encoding": {"x": {"datum": 1, "axis": null}, "y": {"datum": 200, "axis": null}, "text": {"field": "t1"}}},
       {"mark": {"type": "text", "align": "left", "baseline": "middle", "dy": -14, "fontSize": 7.5, "fontWeight": "bold", "color": "#111"}, "encoding": {"x": {"datum": 1, "axis": null}, "y": {"datum": 200, "axis": null}, "text": {"field": "t2"}}},
       {"mark": {"type": "text", "align": "center", "baseline": "middle", "dx": 8, "dy": -16, "fontSize": 16.5, "fontWeight": "bold", "color": "#111"}, "encoding": {"x": {"datum": 7.2, "axis": null}, "y": {"datum": 200, "axis": null}, "text": {"field": "L"}}},
       {"mark": {"type": "text", "align": "center", "baseline": "middle", "fontSize": 17.5, "fontWeight": "bold", "color": "#111"}, "encoding": {"x": {"datum": 4.2, "axis": null}, "y": {"datum": 55, "axis": null}, "text": {"field": "pct"}}},
       {"mark": {"type": "rule", "color": "#7a2c2c", "strokeWidth": 1.2}, "encoding": {"x": {"field": "g", "type": "quantitative", "axis": null}, "x2": {"datum": 7.2}, "y": {"datum": 8, "axis": null}}},
       {"mark": {"type": "rule", "color": "#7a2c2c", "strokeWidth": 1.2}, "encoding": {"x": {"field": "g", "type": "quantitative", "axis": null}, "y": {"datum": 0, "axis": null}, "y2": {"datum": 18}}},
       {"mark": {"type": "rule", "color": "#7a2c2c", "strokeWidth": 1.2}, "encoding": {"x": {"datum": 7.2, "axis": null}, "y": {"datum": 0, "axis": null}, "y2": {"datum": 18}}}
     ]}
  ]
  }
 ], "spacing": 2}
], "spacing": 0}
]
}
